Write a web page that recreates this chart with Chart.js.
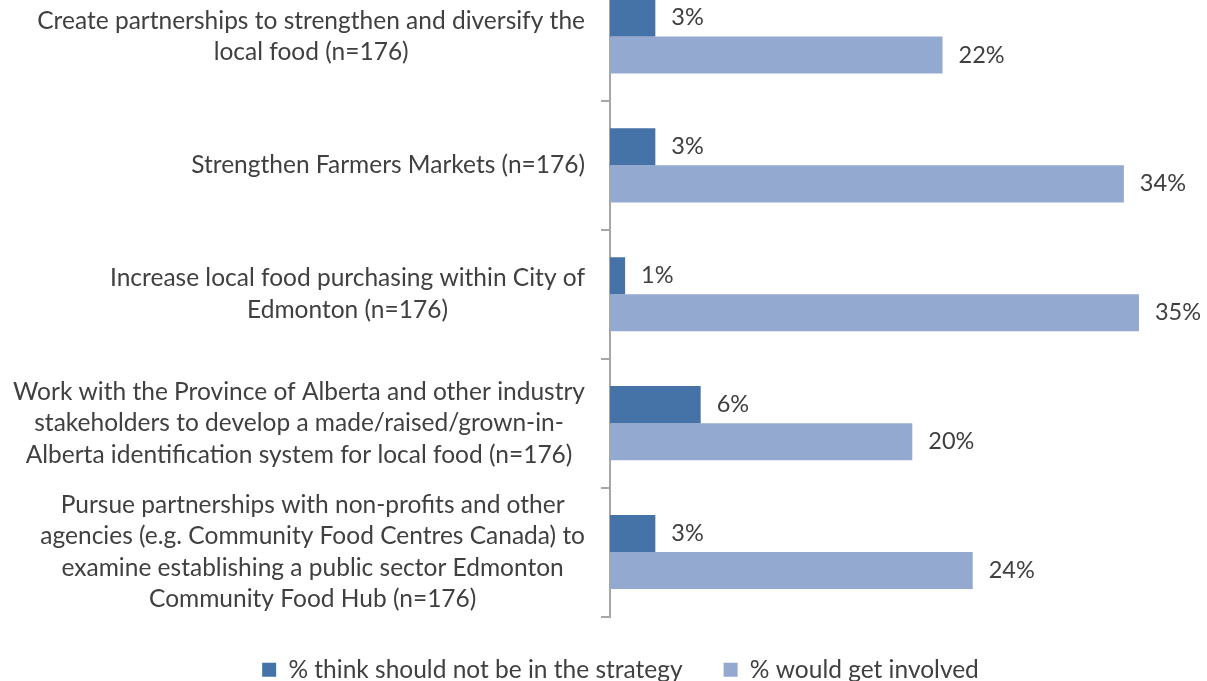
<!DOCTYPE html>
<html>
<head>
<meta charset="utf-8">
<script src="https://cdn.jsdelivr.net/npm/chart.js@4"></script>
<style>
  html, body { margin: 0; padding: 0; background: #fff; overflow: hidden; }
  #wrap { position: absolute; left: 0; top: -28px; width: 1207px; height: 720px; }
</style>
</head>
<body>
<div id="wrap"><canvas id="chart"></canvas></div>
<script>
// data
const categories = [
  ['Create partnerships to strengthen and diversify the', 'local food (n=176)'],
  ['Strengthen Farmers Markets (n=176)'],
  ['Increase local food purchasing within City of', 'Edmonton (n=176)'],
  ['Work with the Province of Alberta and other industry', 'stakeholders to develop a made/raised/grown-in-', 'Alberta identification system for local food (n=176)'],
  ['Pursue partnerships with non-profits and other', 'agencies (e.g. Community Food Centres Canada) to', 'examine establishing a public sector Edmonton', 'Community Food Hub (n=176)']
];
const seriesNames = ['% think should not be in the strategy', '% would get involved'];
const notInStrategy = [3, 3, 1, 6, 3];
const wouldGetInvolved = [22, 34, 35, 20, 24];

const FONT_SIZE = 24.5;
const FONT_FAMILY = 'Lato';
const TEXT = '#404040';
const AXIS = '#A6A6A6';

// value labels at the end of each bar
const barLabels = {
  id: 'barLabels',
  afterDatasetsDraw(chart) {
    const ctx = chart.ctx;
    ctx.save();
    ctx.font = '23.5px ' + FONT_FAMILY;
    ctx.fillStyle = TEXT;
    ctx.textAlign = 'left';
    ctx.textBaseline = 'middle';
    chart.data.datasets.forEach((ds, i) => {
      chart.getDatasetMeta(i).data.forEach((bar, j) => {
        ctx.fillText(ds.data[j] + '%', bar.x + 16, bar.y);
      });
    });
    ctx.restore();
  }
};

// category labels, each block centred on its own widest line
const catLabels = {
  id: 'catLabels',
  afterDraw(chart) {
    const ctx = chart.ctx;
    const scale = chart.scales.y;
    const right = scale.right - 25;
    const lineH = 31.5;
    ctx.save();
    ctx.font = FONT_SIZE + 'px ' + FONT_FAMILY;
    ctx.fillStyle = TEXT;
    ctx.textAlign = 'center';
    ctx.textBaseline = 'middle';
    categories.forEach((lines, i) => {
      const yc = scale.getPixelForTick(i);
      const widest = Math.max(...lines.map(l => ctx.measureText(l).width));
      const xc = right - widest / 2;
      lines.forEach((l, k) => {
        ctx.fillText(l, xc, yc + (k - (lines.length - 1) / 2) * lineH);
      });
    });
    ctx.restore();
  }
};

new Chart(document.getElementById('chart'), {
  type: 'bar',
  data: {
    labels: categories,
    datasets: [
      { label: seriesNames[0], data: notInStrategy, backgroundColor: '#4572A7' },
      { label: seriesNames[1], data: wouldGetInvolved, backgroundColor: '#93A9D0' }
    ]
  },
  options: {
    indexAxis: 'y',
    responsive: true,
    maintainAspectRatio: false,
    animation: false,
    layout: { padding: { left: 34, right: 0, top: 0, bottom: 0 } },
    datasets: { bar: { categoryPercentage: 0.575, barPercentage: 1.0 } },
    scales: {
      x: {
        min: 0,
        max: 39.5,
        grid: { display: false },
        border: { display: false },
        ticks: { display: false },
        afterFit: s => { s.height = 0; }
      },
      y: {
        grid: { drawOnChartArea: false, drawTicks: true, tickLength: 9, color: AXIS, lineWidth: 2 },
        border: { display: true, color: AXIS, width: 2 },
        ticks: { display: false },
        afterFit: s => { s.width = 576; }
      }
    },
    plugins: {
      legend: {
        position: 'bottom',
        labels: {
          boxWidth: 14,
          boxHeight: 14,
          padding: 41,
          color: TEXT,
          font: { family: FONT_FAMILY, size: FONT_SIZE }
        }
      },
      tooltip: { enabled: false }
    }
  },
  plugins: [barLabels, catLabels]
});
</script>
</body>
</html>
